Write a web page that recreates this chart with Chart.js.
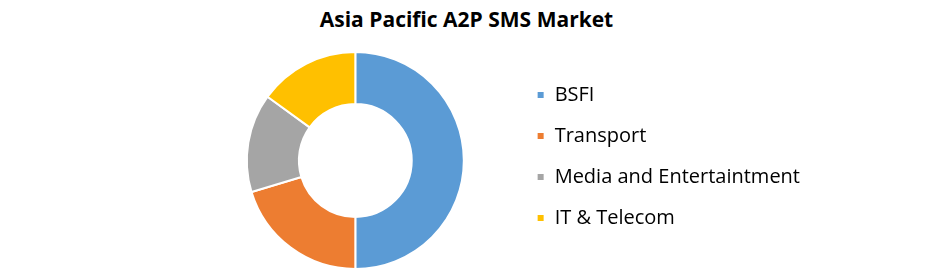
<!DOCTYPE html>
<html lang="en">
<head>
    <meta charset="UTF-8">
    <title>Asia Pacific A2P SMS Market</title>
    <script src="https://cdn.jsdelivr.net/npm/chart.js@4.4.1/dist/chart.umd.min.js"></script>
    <style>
        body { margin: 0; background: #fff; font-family: "Open Sans", sans-serif; }
        .title { height: 40px; line-height: 38px; text-align: center; font-weight: bold; font-size: 21px; color: #000; padding-right: 8px; }
        .chart-container { position: relative; width: 941px; height: 239px; }
    </style>
</head>
<body>
    <div class="title">Asia Pacific A2P SMS Market</div>
    <div class="chart-container">
        <canvas id="chart"></canvas>
    </div>

    <script>
        const categories = ['BSFI', 'Transport', 'Media and Entertaintment', 'IT & Telecom'];
        const shares = [50, 20.3, 14.7, 15];
        const colors = ['#5B9BD5', '#ED7D31', '#A5A5A5', '#FFC000'];

        // legend sits a few px above the ring's centre in the original
        const nudgeLegend = {
            id: 'nudgeLegend',
            afterLayout(chart) {
                chart.legend.top -= 4;
                chart.legend.bottom -= 4;
            }
        };

        new Chart(document.getElementById('chart'), {
            type: 'doughnut',
            data: {
                labels: categories,
                datasets: [{
                    data: shares,
                    backgroundColor: colors,
                    borderColor: '#fff',
                    borderWidth: 2,
                }]
            },
            options: {
                responsive: true,
                maintainAspectRatio: false,
                animation: false,
                cutout: '52%',
                layout: { padding: { left: 195, right: 131, top: 11, bottom: 9 } },
                plugins: {
                    tooltip: { enabled: false },
                    legend: {
                        position: 'right',
                        labels: {
                            boxWidth: 8,
                            boxHeight: 8,
                            padding: 21,
                            color: '#000',
                            font: { family: 'Open Sans', size: 20 },
                        }
                    }
                }
            },
            plugins: [nudgeLegend]
        });
    </script>
</body>
</html>
